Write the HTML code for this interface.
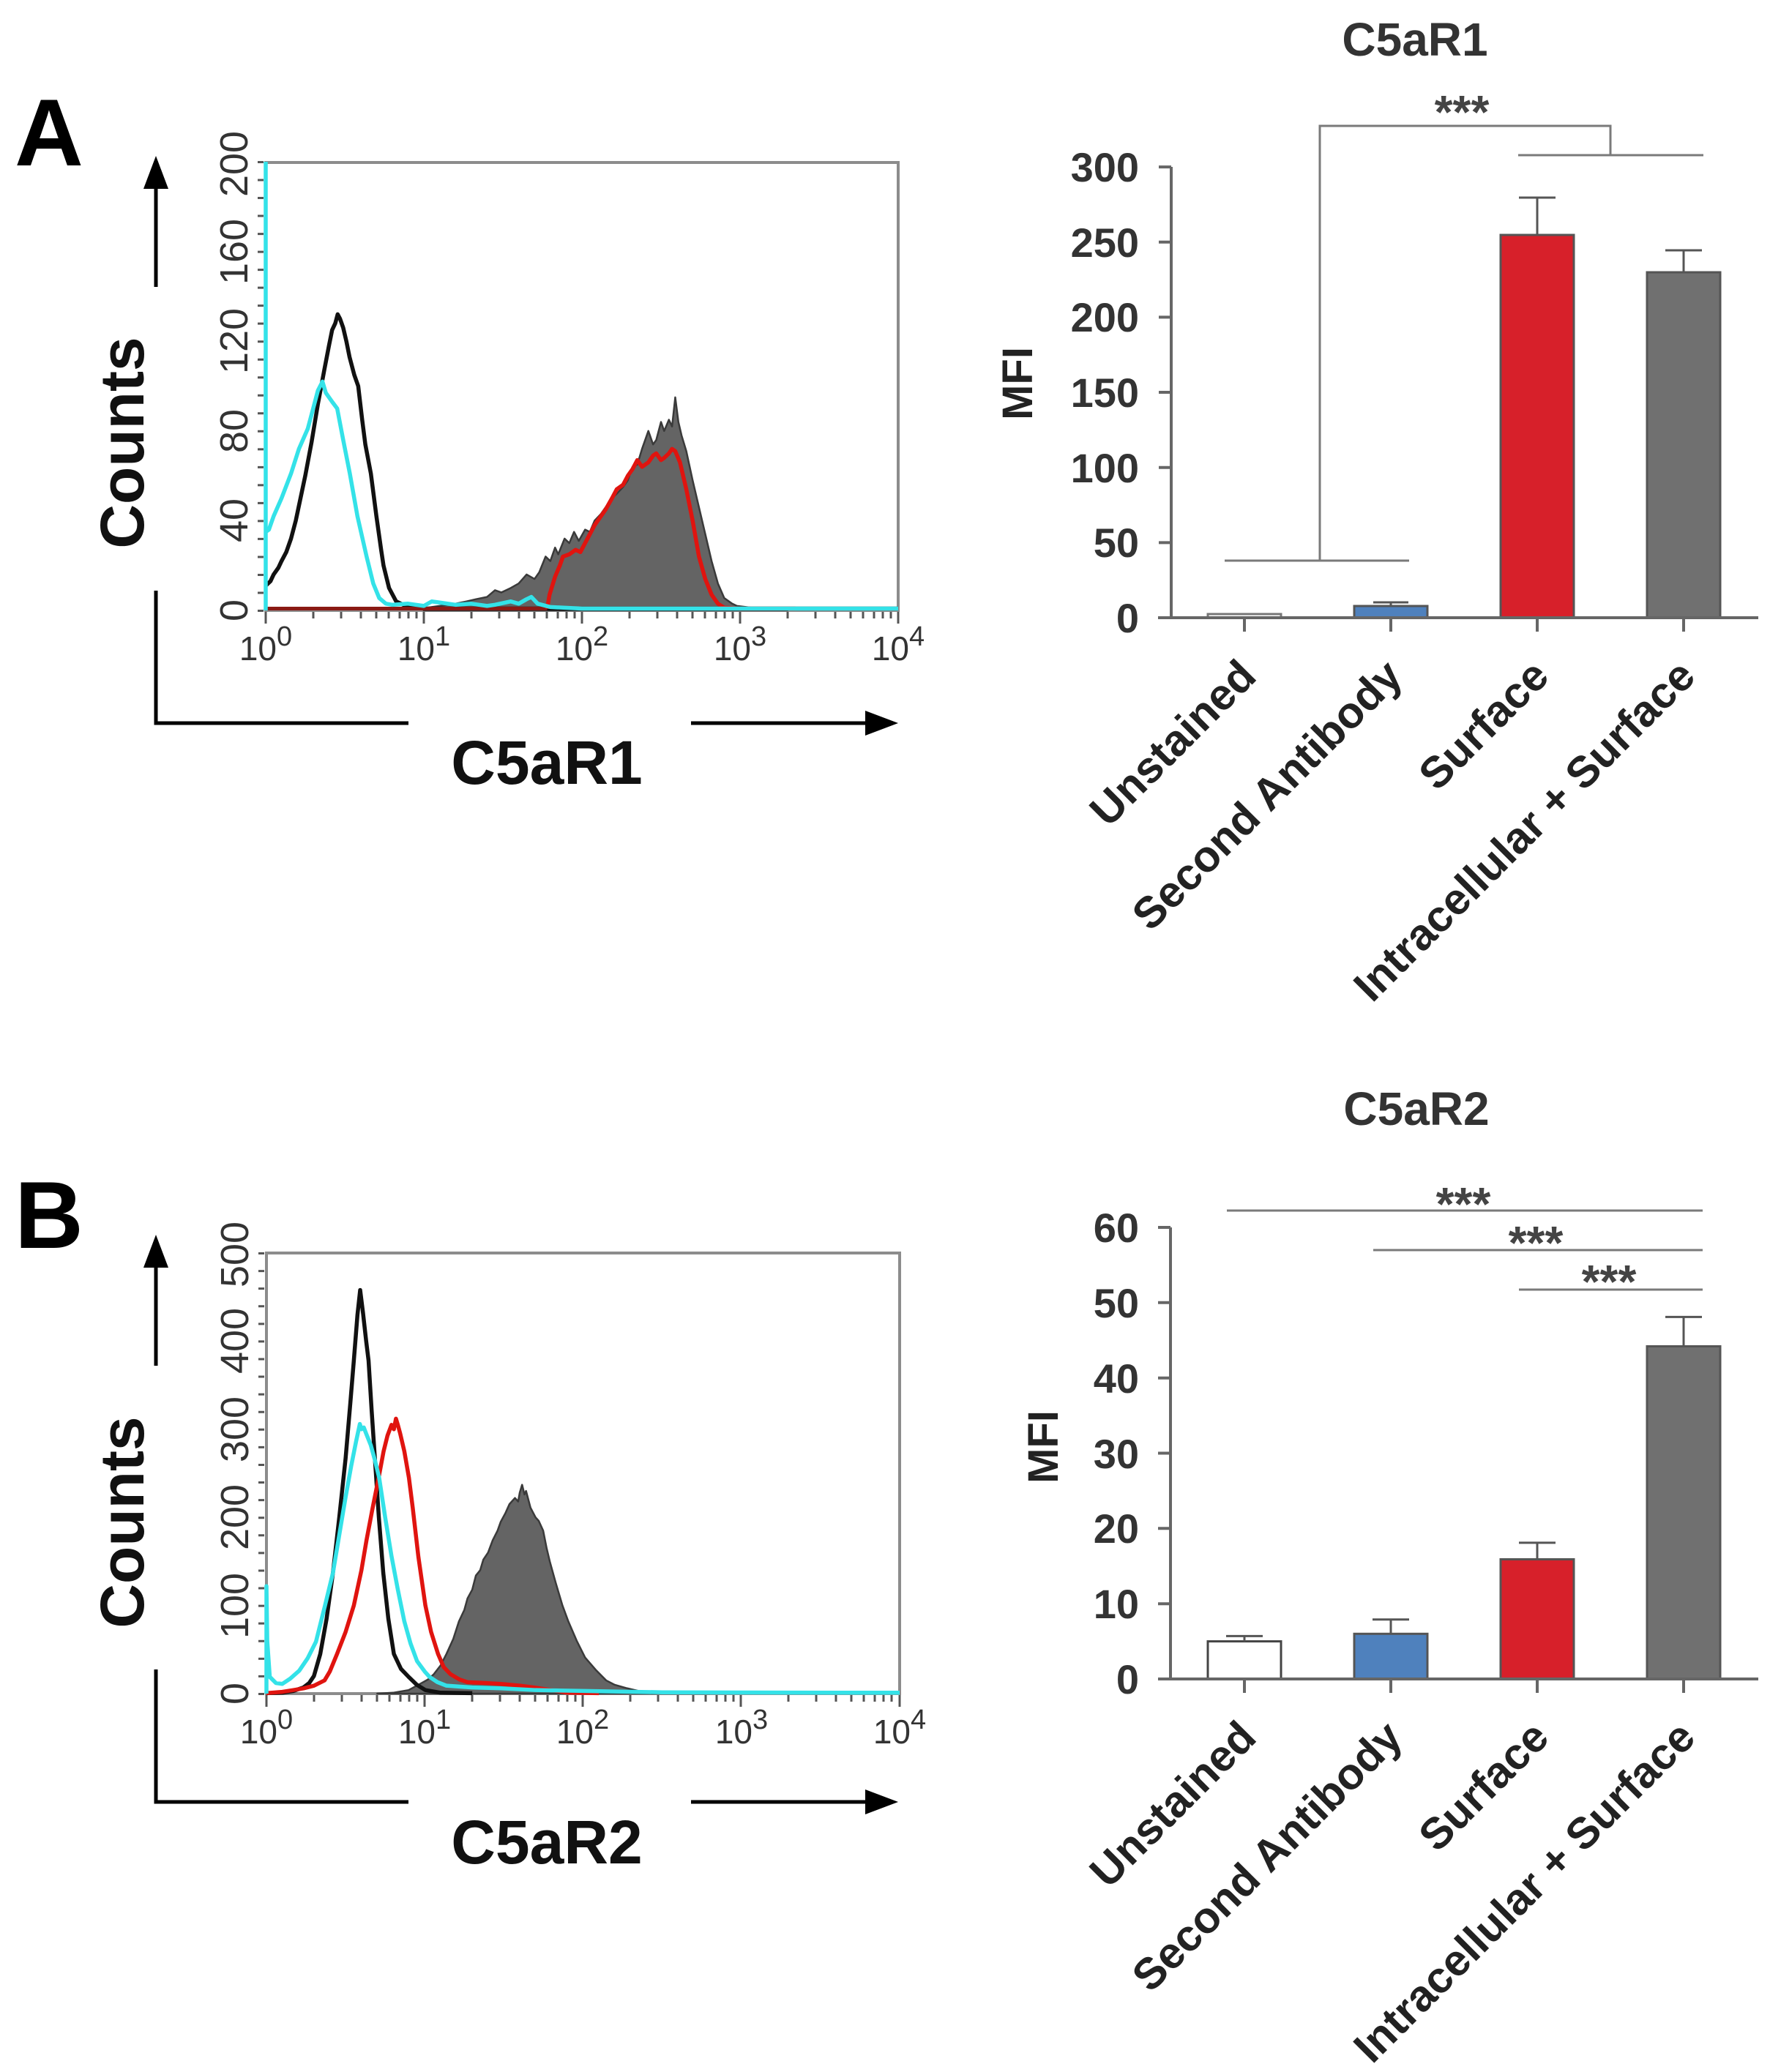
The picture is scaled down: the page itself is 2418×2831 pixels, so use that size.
<!DOCTYPE html>
<html><head><meta charset="utf-8"><style>
html,body{margin:0;padding:0;background:#fff;}
svg{display:block;}
text{font-family:"Liberation Sans",Arial,sans-serif;}
</style></head><body>
<svg width="2418" height="2831" viewBox="0 0 2418 2831" xmlns="http://www.w3.org/2000/svg">
<rect width="2418" height="2831" fill="#fff"/>

<!-- Panel letters -->
<text x="20" y="226" font-size="130" font-weight="bold" fill="#000">A</text>
<text x="20" y="1705" font-size="130" font-weight="bold" fill="#000">B</text>

<!-- ================= Panel A histogram ================= -->
<g stroke="#000" stroke-width="5" fill="none">
  <line x1="213" y1="255" x2="213" y2="392"/>
  <polyline points="213,807 213,988 558,988"/>
  <line x1="944" y1="988" x2="1185" y2="988"/>
</g>
<polygon points="213,213 196,258 230,258" fill="#000"/>
<polygon points="1227,988 1182,971 1182,1005" fill="#000"/>
<text transform="translate(196,605) rotate(-90)" text-anchor="middle" font-size="84" font-weight="bold" fill="#111">Counts</text>
<text x="747" y="1071" text-anchor="middle" font-size="84" font-weight="bold" fill="#111">C5aR1</text>

<!-- box -->
<path d="M363,834 V222 H1227 V834 Z" fill="none" stroke="#8c8c8c" stroke-width="4"/>
<line x1="356" y1="836" x2="356" y2="220" stroke="#555" stroke-width="8" stroke-dasharray="3 21.52"/>
<g stroke="#555" stroke-width="3" fill="none">
<path d="M363,836v16 M428,836v9 M466,836v9 M493,836v9 M514,836v9 M531,836v9 M546,836v9 M558,836v9 M569,836v9
M579,836v16 M644,836v9 M682,836v9 M709,836v9 M730,836v9 M747,836v9 M762,836v9 M774,836v9 M785,836v9
M795,836v16 M860,836v9 M898,836v9 M925,836v9 M946,836v9 M963,836v9 M978,836v9 M990,836v9 M1001,836v9
M1011,836v16 M1076,836v9 M1114,836v9 M1141,836v9 M1162,836v9 M1179,836v9 M1194,836v9 M1206,836v9 M1217,836v9 M1227,836v16"/>
</g>
<g font-size="54" fill="#333" text-anchor="middle">
  <text transform="translate(338,834) rotate(-90)">0</text>
  <text transform="translate(338,711) rotate(-90)">40</text>
  <text transform="translate(338,589) rotate(-90)">80</text>
  <text transform="translate(338,466) rotate(-90)">120</text>
  <text transform="translate(338,344) rotate(-90)">160</text>
  <text transform="translate(338,224) rotate(-90)">200</text>
</g>
<g font-size="46" fill="#333" text-anchor="middle">
  <text x="363" y="902">10<tspan font-size="38" dy="-20">0</tspan></text>
  <text x="579" y="902">10<tspan font-size="38" dy="-20">1</tspan></text>
  <text x="795" y="902">10<tspan font-size="38" dy="-20">2</tspan></text>
  <text x="1011" y="902">10<tspan font-size="38" dy="-20">3</tspan></text>
  <text x="1227" y="902">10<tspan font-size="38" dy="-20">4</tspan></text>
</g>

<g transform="translate(363,834) scale(216,-3.065)" stroke-linejoin="round">
  <path vector-effect="non-scaling-stroke" fill="#646464" stroke="#3a3a3a" stroke-width="2.5" d="M1.0,0 L1.0,1 L1.1,2 L1.2,3 L1.27,4 L1.33,5 L1.4,6 L1.45,9 L1.49,8 L1.55,10 L1.6,12 L1.65,16 L1.7,14 L1.73,17 L1.77,24 L1.8,22 L1.83,28 L1.85,25 L1.89,32 L1.92,30 L1.95,35 L1.98,31 L2.02,36 L2.05,35 L2.08,40 L2.12,43 L2.15,46 L2.19,50 L2.22,52 L2.26,55 L2.29,58 L2.32,64 L2.35,65 L2.38,72 L2.42,80 L2.45,74 L2.47,76 L2.5,84 L2.52,80 L2.55,85 L2.57,82 L2.59,95 L2.61,84 L2.63,78 L2.66,71 L2.7,58 L2.74,46 L2.78,34 L2.82,22 L2.86,12 L2.9,5.5 L2.95,3 L2.98,2 L3.1,1 L3.3,0.5 L3.3,0 Z"/>
  <path vector-effect="non-scaling-stroke" fill="none" stroke="#111" stroke-width="5.5" d="M0,11 L0.03,13 L0.05,16 L0.08,19 L0.1,22 L0.13,26 L0.16,32 L0.19,40 L0.22,50 L0.25,60 L0.29,75 L0.33,92 L0.37,107 L0.4,118 L0.42,125 L0.44,128 L0.455,132 L0.47,130 L0.49,126 L0.51,120 L0.53,113 L0.56,105 L0.585,100 L0.61,85 L0.63,74 L0.665,61 L0.7,42 L0.73,27 L0.745,20 L0.78,10 L0.825,4 L0.9,1.5 L1,0.8 L4,0.8"/>
  <path vector-effect="non-scaling-stroke" fill="none" stroke="#8a1a14" stroke-width="5" d="M0,0.8 L1.78,0.8"/>
  <path vector-effect="non-scaling-stroke" fill="none" stroke="#e0140f" stroke-width="5.5" d="M1.78,0.8 L1.795,7 L1.83,15 L1.86,20 L1.88,24 L1.92,25 L1.96,27 L1.99,26 L2.02,30 L2.05,34 L2.08,38 L2.12,42 L2.15,45 L2.19,50 L2.22,54 L2.26,56 L2.29,60 L2.32,63 L2.35,67 L2.38,64 L2.42,66 L2.45,69 L2.47,70 L2.5,67 L2.52,68 L2.55,70 L2.57,72 L2.59,71 L2.62,66 L2.66,54 L2.7,40 L2.74,24 L2.78,14 L2.82,7 L2.86,3 L2.9,1.2 L3.0,0.8 L3.35,0.8"/>
  <path vector-effect="non-scaling-stroke" fill="none" stroke="#34e2e8" stroke-width="5.5" d="M0,0 L0,200 M0,35 L0.02,36 L0.05,42 L0.1,50 L0.16,61 L0.21,72 L0.266,81 L0.3,90 L0.33,98 L0.359,102 L0.38,97 L0.4,95 L0.42,93 L0.452,90 L0.49,76 L0.532,61 L0.58,42 L0.638,24 L0.68,12 L0.718,5.5 L0.76,3 L0.8,2.5 L0.9,3 L1.0,2 L1.05,4 L1.1,3.5 L1.2,2.5 L1.3,3 L1.4,2 L1.45,2.5 L1.55,4 L1.6,3 L1.65,5 L1.68,6 L1.72,3 L1.8,1.5 L2,0.8 L4,0.8"/>
</g>

<!-- ================= Panel B histogram ================= -->
<g stroke="#000" stroke-width="5" fill="none">
  <line x1="213" y1="1729" x2="213" y2="1866"/>
  <polyline points="213,2281 213,2462 558,2462"/>
  <line x1="944" y1="2462" x2="1185" y2="2462"/>
</g>
<polygon points="213,1687 196,1732 230,1732" fill="#000"/>
<polygon points="1227,2462 1182,2445 1182,2479" fill="#000"/>
<text transform="translate(196,2080) rotate(-90)" text-anchor="middle" font-size="84" font-weight="bold" fill="#111">Counts</text>
<text x="747" y="2546" text-anchor="middle" font-size="84" font-weight="bold" fill="#111">C5aR2</text>

<path d="M364,2314 V1712 H1229 V2314 Z" fill="none" stroke="#8c8c8c" stroke-width="4"/>
<line x1="357" y1="2316" x2="357" y2="1710" stroke="#555" stroke-width="8" stroke-dasharray="3 21.08"/>
<g stroke="#555" stroke-width="3" fill="none" transform="translate(1,1480)">
<path d="M363,836v16 M428,836v9 M466,836v9 M493,836v9 M514,836v9 M531,836v9 M546,836v9 M558,836v9 M569,836v9
M579,836v16 M644,836v9 M682,836v9 M709,836v9 M730,836v9 M747,836v9 M762,836v9 M774,836v9 M785,836v9
M795,836v16 M860,836v9 M898,836v9 M925,836v9 M946,836v9 M963,836v9 M978,836v9 M990,836v9 M1001,836v9
M1011,836v16 M1076,836v9 M1114,836v9 M1141,836v9 M1162,836v9 M1179,836v9 M1194,836v9 M1206,836v9 M1217,836v9 M1228,836v16"/>
</g>
<g font-size="54" fill="#333" text-anchor="middle">
  <text transform="translate(339,2314) rotate(-90)">0</text>
  <text transform="translate(339,2194) rotate(-90)">100</text>
  <text transform="translate(339,2073) rotate(-90)">200</text>
  <text transform="translate(339,1953) rotate(-90)">300</text>
  <text transform="translate(339,1832) rotate(-90)">400</text>
  <text transform="translate(339,1714) rotate(-90)">500</text>
</g>
<g font-size="46" fill="#333" text-anchor="middle">
  <text x="364" y="2382">10<tspan font-size="38" dy="-20">0</tspan></text>
  <text x="580" y="2382">10<tspan font-size="38" dy="-20">1</tspan></text>
  <text x="796" y="2382">10<tspan font-size="38" dy="-20">2</tspan></text>
  <text x="1013" y="2382">10<tspan font-size="38" dy="-20">3</tspan></text>
  <text x="1229" y="2382">10<tspan font-size="38" dy="-20">4</tspan></text>
</g>

<g transform="translate(364,2314) scale(216.25,-1.204)" stroke-linejoin="round">
  <path vector-effect="non-scaling-stroke" fill="#646464" stroke="#3a3a3a" stroke-width="2.5" d="M0.7,0 L0.8,1 L0.898,4 L0.98,12 L1.02,16 L1.057,22 L1.1,32 L1.137,45 L1.18,62 L1.216,82 L1.25,95 L1.27,108 L1.3,118 L1.323,134 L1.35,140 L1.37,152 L1.4,160 L1.429,174 L1.46,185 L1.48,195 L1.51,205 L1.535,215 L1.57,222 L1.59,218 L1.6,228 L1.615,237 L1.63,226 L1.64,230 L1.668,211 L1.7,200 L1.72,196 L1.748,185 L1.77,165 L1.79,150 L1.827,126 L1.87,100 L1.907,82 L1.96,60 L2.013,41 L2.08,27 L2.146,15 L2.2,10 L2.279,6 L2.35,3 L2.412,2 L2.6,0.5 L2.8,0 Z"/>
  <path vector-effect="non-scaling-stroke" fill="none" stroke="#111" stroke-width="5.5" d="M0,0.5 L0.1,1 L0.17,3 L0.234,7 L0.27,12 L0.3,20 L0.34,45 L0.38,85 L0.42,137 L0.46,200 L0.5,267 L0.53,330 L0.552,378 L0.575,430 L0.592,458 L0.61,432 L0.63,400 L0.645,378 L0.665,320 L0.685,267 L0.71,200 L0.738,137 L0.77,85 L0.805,45 L0.85,28 L0.898,19 L0.95,10 L1.004,4 L1.1,1 L1.3,0.5"/>
  <path vector-effect="non-scaling-stroke" fill="none" stroke="#e0140f" stroke-width="5.5" d="M0,0.5 L0.1,2 L0.17,4 L0.234,6 L0.3,9 L0.367,15 L0.4,25 L0.446,45 L0.5,70 L0.552,100 L0.6,140 L0.632,174 L0.67,210 L0.712,248 L0.74,275 L0.765,293 L0.79,305 L0.805,300 L0.818,312 L0.83,305 L0.845,295 L0.871,275 L0.9,245 L0.924,211 L0.96,155 L1.004,100 L1.04,70 L1.084,45 L1.12,30 L1.163,22 L1.22,16 L1.27,13 L1.38,12 L1.48,11 L1.6,9 L1.69,7 L1.8,4 L1.9,1 L2.1,0.5"/>
  <path vector-effect="non-scaling-stroke" fill="none" stroke="#34e2e8" stroke-width="5.5" d="M0,0 L0,122 L0.005,60 L0.021,19 L0.06,12 L0.1,11 L0.15,17 L0.207,26 L0.26,40 L0.313,59 L0.37,100 L0.42,137 L0.46,180 L0.5,223 L0.535,258 L0.566,286 L0.59,306 L0.6,300 L0.615,302 L0.63,295 L0.659,282 L0.685,265 L0.712,245 L0.75,200 L0.79,156 L0.83,118 L0.871,82 L0.91,57 L0.951,37 L1.0,25 L1.03,19 L1.08,13 L1.137,9 L1.3,7 L1.48,6 L1.7,4 L2.01,3 L2.5,1.5 L3,1.2 L4,1"/>
</g>

<!-- ================= Bar chart A ================= -->
<text x="1933" y="76" text-anchor="middle" font-size="64" font-weight="bold" fill="#333">C5aR1</text>
<text transform="translate(1410,524) rotate(-90)" text-anchor="middle" font-size="58" font-weight="bold" fill="#222">MFI</text>

<!-- significance A -->
<g stroke="#7a7a7a" stroke-width="3" fill="none">
  <path d="M1673,766 H1925"/>
  <path d="M1803,766 V172 H2200 V212"/>
  <path d="M2074,212 H2327"/>
</g>
<text x="1997" y="175" text-anchor="middle" font-size="64" font-weight="bold" fill="#444">***</text>

<!-- bars A -->
<g stroke="#555" stroke-width="3">
  <rect x="1650" y="839" width="100" height="5" fill="#fff" stroke="#777"/>
  <rect x="1850" y="828" width="100" height="16" fill="#4f81bd"/>
  <rect x="2050" y="321" width="100" height="523" fill="#d7202a"/>
  <rect x="2250" y="372" width="100" height="472" fill="#707070"/>
</g>
<g stroke="#555" stroke-width="3" fill="none">
  <path d="M1900,828 V823 M1876,823 H1924"/>
  <path d="M2100,321 V270 M2075,270 H2125"/>
  <path d="M2300,372 V342 M2275,342 H2325"/>
</g>
<!-- axes A -->
<g stroke="#666" stroke-width="4" fill="none">
  <path d="M1600,228 V844"/>
  <path d="M1582,844 H2402"/>
  <path d="M1583,844 H1600 M1583,741.4 H1600 M1583,638.7 H1600 M1583,536 H1600 M1583,433.4 H1600 M1583,330.8 H1600 M1583,228.1 H1600"/>
  <path d="M1700,844 V863 M1900,844 V863 M2100,844 V863 M2300,844 V863"/>
</g>
<g font-size="56" font-weight="bold" fill="#333" text-anchor="end">
  <text x="1556" y="864">0</text>
  <text x="1556" y="761">50</text>
  <text x="1556" y="659">100</text>
  <text x="1556" y="556">150</text>
  <text x="1556" y="453">200</text>
  <text x="1556" y="351">250</text>
  <text x="1556" y="248">300</text>
</g>
<g font-size="60" font-weight="bold" fill="#222" text-anchor="end">
  <text transform="translate(1719,927) rotate(-45)">Unstained</text>
  <text transform="translate(1919,927) rotate(-45)">Second Antibody</text>
  <text transform="translate(2119,927) rotate(-45)">Surface</text>
  <text transform="translate(2319,927) rotate(-45)">Intracellular + Surface</text>
</g>

<!-- ================= Bar chart B ================= -->
<text x="1935" y="1537" text-anchor="middle" font-size="64" font-weight="bold" fill="#333">C5aR2</text>
<text transform="translate(1445,1977) rotate(-90)" text-anchor="middle" font-size="58" font-weight="bold" fill="#222">MFI</text>

<g stroke="#7a7a7a" stroke-width="3" fill="none">
  <path d="M1676,1654 H2326"/>
  <path d="M1876,1708 H2326"/>
  <path d="M2075,1762 H2326"/>
</g>
<g font-size="64" font-weight="bold" fill="#444" text-anchor="middle">
  <text x="1999" y="1667">***</text>
  <text x="2098" y="1720">***</text>
  <text x="2198" y="1773">***</text>
</g>

<g stroke="#555" stroke-width="3">
  <rect x="1650" y="2242.6" width="100" height="51.4" fill="#fff" stroke="#444"/>
  <rect x="1850" y="2232.3" width="100" height="61.7" fill="#4f81bd"/>
  <rect x="2050" y="2130.5" width="100" height="163.5" fill="#d7202a"/>
  <rect x="2250" y="1839.5" width="100" height="454.5" fill="#707070"/>
</g>
<g stroke="#555" stroke-width="3" fill="none">
  <path d="M1700,2242.6 V2235.4 M1675,2235.4 H1725"/>
  <path d="M1900,2232.3 V2212.8 M1875,2212.8 H1925"/>
  <path d="M2100,2130.5 V2107.9 M2075,2107.9 H2125"/>
  <path d="M2300,1839.5 V1799.4 M2275,1799.4 H2325"/>
</g>
<g stroke="#666" stroke-width="4" fill="none">
  <path d="M1599,1677 V2294"/>
  <path d="M1582,2294 H2402"/>
  <path d="M1582,2294 H1599 M1582,2191.2 H1599 M1582,2088.3 H1599 M1582,1985.5 H1599 M1582,1882.7 H1599 M1582,1779.8 H1599 M1582,1677 H1599"/>
  <path d="M1700,2294 V2313 M1900,2294 V2313 M2100,2294 V2313 M2300,2294 V2313"/>
</g>
<g font-size="56" font-weight="bold" fill="#333" text-anchor="end">
  <text x="1556" y="2314">0</text>
  <text x="1556" y="2211">10</text>
  <text x="1556" y="2108">20</text>
  <text x="1556" y="2006">30</text>
  <text x="1556" y="1903">40</text>
  <text x="1556" y="1800">50</text>
  <text x="1556" y="1697">60</text>
</g>
<g font-size="60" font-weight="bold" fill="#222" text-anchor="end">
  <text transform="translate(1719,2377) rotate(-45)">Unstained</text>
  <text transform="translate(1919,2377) rotate(-45)">Second Antibody</text>
  <text transform="translate(2119,2377) rotate(-45)">Surface</text>
  <text transform="translate(2319,2377) rotate(-45)">Intracellular + Surface</text>
</g>
</svg>
</body></html>
